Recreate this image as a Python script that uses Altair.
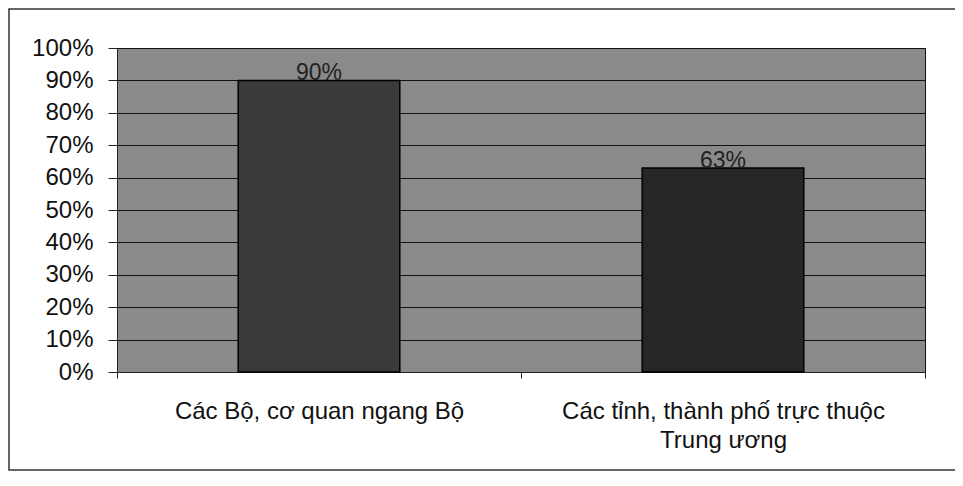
import altair as alt
import pandas as pd

categories = ["Các Bộ, cơ quan ngang Bộ", "Các tỉnh, thành phố trực thuộc Trung ương"]
values = [0.90, 0.63]
value_labels = ["90%", "63%"]
bar_colors = ["#3a3a3a", "#262626"]
y_ticks = [0.0, 0.1, 0.2, 0.3, 0.4, 0.5, 0.6, 0.7, 0.8, 0.9, 1.0]

df = pd.DataFrame({"cat": categories, "val": values, "lbl": value_labels, "col": bar_colors})

label_expr = ("datum.label == 'Các tỉnh, thành phố trực thuộc Trung ương' ? "
              "['Các tỉnh, thành phố trực thuộc', 'Trung ương'] : datum.label")

x_axis = alt.Axis(labelAngle=0, tickBand="extent", grid=False, labelExpr=label_expr,
                  labelFont="Liberation Sans", labelFontSize=24, labelColor="#111",
                  labelPadding=21, labelLineHeight=29, tickSize=6, tickColor="#222",
                  domainColor="#222", labelLimit=500, labelOverlap=False)
y_axis = alt.Axis(format="%", values=y_ticks, grid=True, labelOverlap=False,
                  gridColor="#111", gridWidth=1, labelFont="Liberation Sans",
                  labelFontSize=24, labelColor="#111", tickSize=9, tickColor="#222",
                  labelPadding=15, domainColor="#222")

x = alt.X("cat:N", sort=categories, title=None,
          scale=alt.Scale(paddingInner=0, paddingOuter=0), axis=x_axis)
y = alt.Y("val:Q", title=None, scale=alt.Scale(domain=[0, 1]), axis=y_axis)

bars = alt.Chart(df).mark_bar(width={"band": 0.4}, stroke="#000", strokeWidth=1.5).encode(
    x=x, y=y, color=alt.Color("col:N", scale=None))

text = alt.Chart(df).mark_text(font="Liberation Sans", fontSize=23, color="#222",
                               baseline="alphabetic", dy=0).encode(
    x=x, y=y, text="lbl:N")

border = alt.Chart(pd.DataFrame({"a": [0]})).mark_rect(
    fill=None, stroke="#333", strokeWidth=1.5).encode(
    x=alt.value(-108), x2=alt.value(860), y=alt.value(-39), y2=alt.value(422))

chart = alt.layer(border, bars, text).properties(
    width=808, height=324,
    autosize=alt.AutoSizeParams(type="none"),
    padding={"left": 109, "top": 40, "right": 30, "bottom": 106},
    background="white",
).configure_view(fill="#8a8a8a", stroke="#111", strokeWidth=1)

chart.save("out.html", embed_options={"renderer": "svg", "actions": False})
